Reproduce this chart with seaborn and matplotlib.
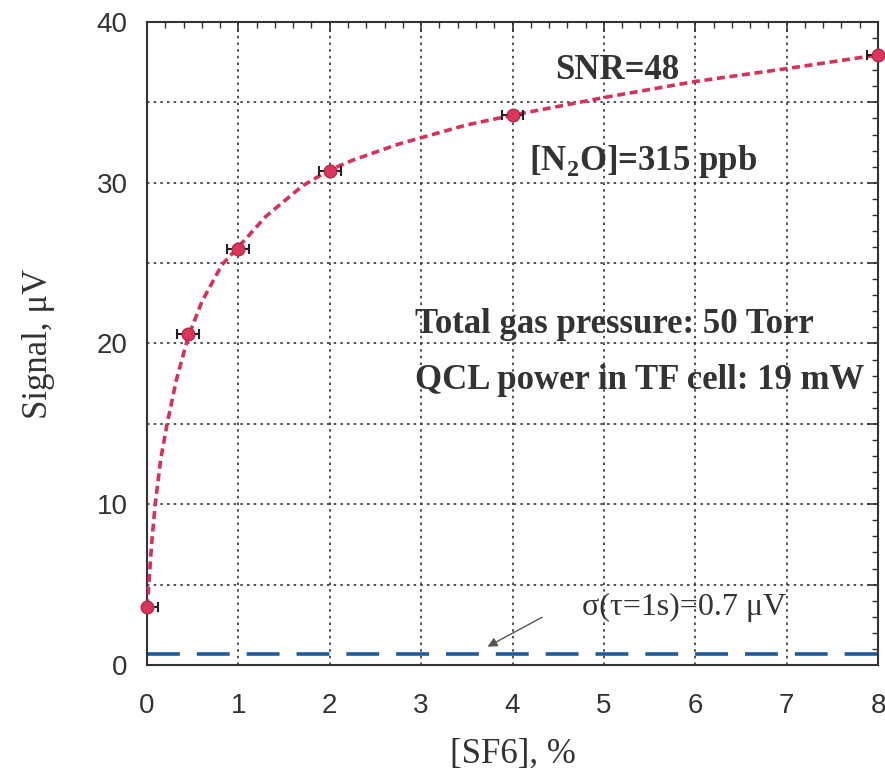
import matplotlib
matplotlib.use("Agg")
import matplotlib.pyplot as plt
import seaborn as sns
import numpy as np
from matplotlib.ticker import MultipleLocator, FuncFormatter

sns.set_theme(style="white")
plt.rcParams['font.family'] = ['Liberation Sans', 'DejaVu Sans']
plt.rcParams['mathtext.fontset'] = 'custom'
plt.rcParams['mathtext.rm'] = 'Liberation Serif'
plt.rcParams['mathtext.bf'] = 'Liberation Serif:bold'

# data points
sf6 = [0.0, 0.45, 1.0, 2.0, 4.0, 8.0]
signal = [3.6, 20.6, 25.9, 30.7, 34.2, 37.95]
sf6_err = [0.12, 0.12, 0.12, 0.12, 0.12, 0.12]

# fitted curve
fit_x = [0.0, 0.02, 0.05, 0.09, 0.15, 0.22, 0.32, 0.45, 0.6, 0.82, 1.0, 1.3, 1.7, 2.0,
         2.25, 2.5, 2.75, 3.0, 3.5, 4.0, 5.0, 6.0, 7.0, 8.0]
fit_y = [3.6, 5.0, 7.5, 10.0, 12.8, 15.0, 17.7, 20.4, 22.6, 24.9, 26.0, 27.9, 29.8, 30.8,
         31.4, 31.9, 32.4, 32.8, 33.6, 34.2, 35.3, 36.3, 37.1, 37.95]

noise = 0.7
noise_x = [0.0, 8.0]

fig = plt.figure(figsize=(8.85, 7.76), dpi=100)
ax = fig.add_axes([147/885, 1-665/776, (878-147)/885, (665-22)/776])

ax.plot(noise_x, [noise, noise], color='#1f5a9a', lw=2.6, dashes=(9.1, 4.7), zorder=2)
sns.lineplot(x=fit_x, y=fit_y, ax=ax, color='#d8305a', lw=2.6, zorder=3)
ax.lines[-1].set_dashes((2.2, 1.3))
ax.errorbar(sf6, signal, xerr=sf6_err, fmt='none', ecolor='#222222', elinewidth=1.5,
            capsize=3.5, capthick=1.5, zorder=4)
sns.scatterplot(x=sf6, y=signal, ax=ax, color='#d9365a', s=85, edgecolor='#b02040',
                linewidth=0.8, zorder=5, clip_on=False)

ax.set_xlim(0, 8)
ax.set_ylim(0, 40)
ax.xaxis.set_major_locator(MultipleLocator(1))
ax.xaxis.set_minor_locator(MultipleLocator(0.2))
ax.yaxis.set_major_locator(MultipleLocator(5))
ax.yaxis.set_minor_locator(MultipleLocator(1))
ax.yaxis.set_major_formatter(FuncFormatter(lambda v, p: f"{int(v)}" if v % 10 == 0 else ""))
ax.tick_params(which='both', direction='in', top=True, right=True, color='#333333')
ax.tick_params(which='major', length=7, width=1.2, labelsize=20, labelcolor='#333333')
ax.tick_params(axis='x', which='major', pad=20)
ax.tick_params(axis='y', which='major', pad=14)
ax.tick_params(which='minor', length=4, width=1.0)
ax.grid(True, which='major', color='#333333', linestyle=(0, (1.5, 2.5)), lw=1.2)
for s in ax.spines.values():
    s.set_color('#333333')
    s.set_linewidth(1.5)

serif = ['Liberation Serif', 'DejaVu Serif']
ax.set_xlabel('[SF6], %', family=serif, fontsize=25, color='#333333', labelpad=14)
ax.set_ylabel('Signal, μV', family=serif, fontsize=25, color='#333333', labelpad=30)

ax.text(5.15, 37.0, 'SNR=48', family=serif, fontsize=25, fontweight='bold',
        color='#333333', ha='center', va='center')
ax.text(5.43, 31.3, '[N$_\\mathbf{2}$O]=315 ppb', family=serif, fontsize=25, fontweight='bold',
        color='#333333', ha='center', va='center')
ax.text(2.93, 21.2, 'Total gas pressure: 50 Torr', family=serif, fontsize=25,
        fontweight='bold', color='#333333', ha='left', va='center')
ax.text(2.93, 17.7, 'QCL power in TF cell: 19 mW', family=serif, fontsize=25,
        fontweight='bold', color='#333333', ha='left', va='center')
ax.text(5.88, 3.55, 'σ(τ=1s)=0.7 μV', family=serif, fontsize=23, color='#333333',
        ha='center', va='center')
ax.annotate('', xy=(3.70, 1.06), xytext=(4.35, 3.05),
            arrowprops=dict(arrowstyle='-|>', color='#555555', lw=1.0,
                            mutation_scale=14))

fig.savefig('out.png', dpi=100)
